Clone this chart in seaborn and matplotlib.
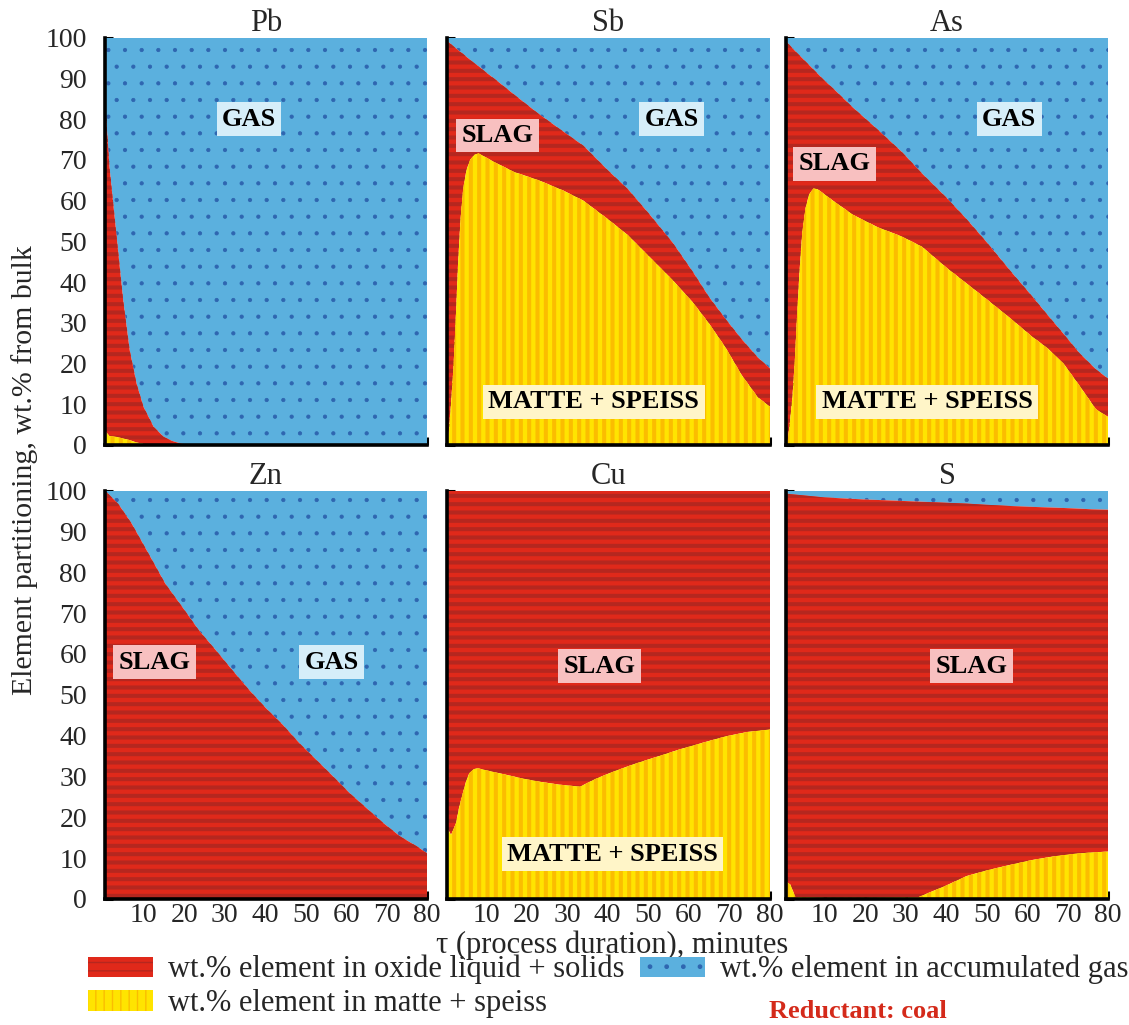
import matplotlib
matplotlib.use("Agg")
import matplotlib.pyplot as plt
import seaborn as sns
import numpy as np
from matplotlib.patches import Patch
from matplotlib.ticker import MultipleLocator, NullFormatter

# ---------------- data ----------------
elements = ["Pb", "Sb", "As", "Zn", "Cu", "S"]

# x = process duration (min); matte = wt.% in matte+speiss (bottom layer);
# condensed = matte + oxide (top of red layer); remainder up to 100 = gas
pb_x         = [0.4, 1.5, 3.2, 4.9, 6.5, 8.2, 9.9, 12.4, 14.9, 17, 19, 21, 30, 40, 50, 60, 70, 80]
pb_matte     = [3.5, 2.2, 2.0, 1.6, 1.2, 0.6, 0.3, 0.0, 0.0, 0, 0, 0, 0, 0, 0, 0, 0, 0]
pb_condensed = [84.5, 68.3, 51.9, 35.5, 23.3, 15.1, 9.4, 4.5, 2.0, 1.0, 0.4, 0, 0, 0, 0, 0, 0, 0]

sb_x         = [0.4, 0.8, 1.3, 2, 2.6, 3.1, 3.7, 4.4, 5.2, 6.1, 7.2, 8.2, 10, 12, 17, 23, 29, 34, 40, 45, 50, 56, 61, 65, 69, 73, 77, 80]
sb_matte     = [0, 3, 9, 19, 32, 44, 55, 63, 67.5, 70, 71.3, 71.6, 70.6, 69.5, 67, 65, 62.5, 60, 55.5, 51.5, 46.5, 40.5, 35, 29.8, 24, 17.2, 11.7, 9.4]
sb_condensed = [99.3, 98.9, 98.5, 97.9, 97.4, 97, 96.5, 96, 95.3, 94.6, 93.7, 93, 91.5, 90, 86, 81.3, 77, 73.5, 67.5, 62.8, 57, 49.7, 42.5, 36.3, 31, 26, 21.5, 18.8]

as_x         = [0.4, 0.8, 1.3, 2, 2.6, 3.1, 3.7, 4.4, 5.2, 6.1, 7.2, 8.2, 10, 12, 17, 23, 29, 34, 40, 45, 50, 56, 61, 65, 69, 73, 77, 80]
as_matte     = [0, 1, 5, 12, 21, 31, 42, 52, 58, 61.5, 63, 62.8, 61.5, 60, 56.5, 53.5, 51.2, 48.7, 43.6, 39.7, 35.8, 31, 26.8, 23.8, 20, 14.5, 8.8, 6.9]
as_condensed = [99.2, 98.7, 98.2, 97.4, 96.8, 96.3, 95.7, 95, 94.2, 93.3, 92.2, 91.2, 89.4, 87.6, 82.8, 77.5, 72, 66.7, 60.8, 55.5, 49.8, 42.6, 36.8, 32, 27.3, 22.5, 18.6, 16.3]

zn_x         = [0.4, 3.7, 7, 11.2, 15.3, 19.5, 23.6, 27.8, 31.9, 36.1, 40.2, 44.4, 48.5, 52.7, 56.8, 60.9, 65.1, 69.2, 73.4, 77.5, 80]
zn_matte     = [0] * 21
zn_condensed = [100, 96.7, 91.9, 84.5, 77.2, 71.5, 65.8, 60.9, 56, 51.1, 46.7, 42.6, 38.1, 34, 30, 25.9, 22.2, 18.6, 15.3, 12.9, 11.2]

cu_x         = [0.4, 1.4, 2.6, 3.4, 4.3, 5.1, 5.9, 7, 8, 11, 15, 19, 23.3, 28, 33.2, 37, 41.7, 47, 52.7, 58, 63.6, 69, 74.5, 80]
cu_matte     = [17.5, 15.7, 18.5, 22.5, 25.9, 28.8, 30.8, 31.8, 32, 31.3, 30.4, 29.5, 28.7, 28, 27.5, 29.4, 31.3, 33.2, 35, 36.7, 38.3, 39.8, 40.9, 41.5]
cu_condensed = [100] * 24

s_x          = [0.4, 1.5, 2.7, 10, 20, 33, 40, 45, 50, 56, 61, 67, 72, 76, 80]
s_matte      = [4.3, 3.5, 0.5, 0.3, 0.3, 0.4, 3.3, 5.6, 7, 8.4, 9.5, 10.5, 11.1, 11.4, 11.6]
s_condensed  = [99.3, 99.1, 99.0, 98.3, 97.8, 97.3, 97.0, 96.8, 96.5, 96.2, 96.0, 95.8, 95.6, 95.4, 95.3]

series = {
    "Pb": (pb_x, pb_matte, pb_condensed),
    "Sb": (sb_x, sb_matte, sb_condensed),
    "As": (as_x, as_matte, as_condensed),
    "Zn": (zn_x, zn_matte, zn_condensed),
    "Cu": (cu_x, cu_matte, cu_condensed),
    "S":  (s_x, s_matte, s_condensed),
}

# region labels: (text, x, y, kind)
region_labels = {
    "Pb": [("GAS", 36, 80, "gas")],
    "Sb": [("GAS", 55.7, 80, "gas"), ("SLAG", 12.8, 76, "slag"), ("MATTE + SPEISS", 36.6, 10.6, "matte")],
    "As": [("GAS", 55.6, 80, "gas"), ("SLAG", 12.4, 69, "slag"), ("MATTE + SPEISS", 35.3, 10.6, "matte")],
    "Zn": [("SLAG", 12.7, 58, "slag"), ("GAS", 56.4, 58, "gas")],
    "Cu": [("SLAG", 38, 57, "slag"), ("MATTE + SPEISS", 41.2, 11, "matte")],
    "S":  [("SLAG", 46.2, 57, "slag")],
}

legend_labels = ["wt.% element in oxide liquid + solids",
                 "wt.% element in matte + speiss",
                 "wt.% element in accumulated gas"]

# ---------------- style ----------------
sns.set_theme(style="ticks")
plt.rcParams["font.family"] = ["Liberation Serif", "DejaVu Serif"]

RED, RED_H = "#e0291a", "#b5271f"
YEL, YEL_H = "#ffe400", "#fbbd00"
BLU, BLU_H = "#5bb0de", "#2f66b0"
box_col = {"gas": "#d6eef9", "slag": "#f8c0c0", "matte": "#fff5c8"}

W, H = 1129, 1025
fig = plt.figure(figsize=(W / 100, H / 100), dpi=100)

col_left = [105, 447, 786]
col_w = [322, 323, 322]
row_top = [37.7, 490.5]
row_bot = [445, 899]

TICK_FS = 20
LAB_FS = 19


def hatched_fill(ax, x, y1, y2, fc, hc, hatch, hlw):
    with plt.rc_context({"hatch.linewidth": hlw}):
        coll = ax.fill_between(x, y1, y2, facecolor=fc, edgecolor=hc, hatch=hatch, linewidth=0)
    if hasattr(coll, "set_hatch_linewidth"):
        coll.set_hatch_linewidth(hlw)
    return coll


for i, el in enumerate(elements):
    r, c = divmod(i, 3)
    left = col_left[c] / W
    width = col_w[c] / W
    bottom = 1 - row_bot[r] / H
    height = (row_bot[r] - row_top[r]) / H
    ax = fig.add_axes([left, bottom, width, height])

    x, matte, condensed = series[el]
    x = np.asarray(x, float)
    matte = np.asarray(matte, float)
    condensed = np.asarray(condensed, float)
    top = np.full_like(x, 100.0)

    hatched_fill(ax, x, condensed, top, BLU, BLU_H, ".", 0.6)
    hatched_fill(ax, x, matte, condensed, RED, RED_H, "--", 2.9)
    hatched_fill(ax, x, 0, matte, YEL, YEL_H, "||", 2.9)

    ax.set_xlim(0.4, 80)
    ax.set_ylim(0, 100)
    ax.set_xticks(range(10, 81, 10))
    ax.yaxis.set_major_locator(MultipleLocator(10))
    ax.yaxis.set_minor_locator(MultipleLocator(5))
    ax.tick_params(axis="both", which="both", direction="in", length=6, width=2.2,
                   color="black", labelsize=TICK_FS)
    ax.tick_params(axis="y", pad=13)
    ax.tick_params(axis="x", pad=3)
    if c != 0:
        ax.yaxis.set_major_formatter(NullFormatter())
    if r == 0:
        ax.xaxis.set_major_formatter(NullFormatter())

    for s in ("top", "right"):
        ax.spines[s].set_visible(False)
    for s in ("left", "bottom"):
        ax.spines[s].set_linewidth(2.6)
        ax.spines[s].set_color("black")
        ax.spines[s].set_zorder(5)

    ax.set_title(el, fontsize=22, pad=3)

    for txt, tx, ty, kind in region_labels[el]:
        ax.text(tx, ty, txt, ha="center", va="center", fontsize=LAB_FS, fontweight="bold",
                color="black", zorder=6,
                bbox=dict(boxstyle="square,pad=0.2", facecolor=box_col[kind], edgecolor="none"))

fig.text(25 / W, 1 - 470 / H, "Element partitioning, wt.% from bulk", rotation=90,
         ha="center", va="center", fontsize=21.5)
fig.text(612 / W, 1 - 945 / H, "τ (process duration), minutes", ha="center", va="center", fontsize=22)

with plt.rc_context({"hatch.linewidth": 2.9}):
    h_red = Patch(facecolor=RED, edgecolor=RED_H, hatch="--", linewidth=0)
    h_yel = Patch(facecolor=YEL, edgecolor=YEL_H, hatch="||", linewidth=0)
with plt.rc_context({"hatch.linewidth": 0.6}):
    h_blu = Patch(facecolor=BLU, edgecolor=BLU_H, hatch=".", linewidth=0)

fig.legend(handles=[h_red, h_yel, h_blu], labels=legend_labels, ncol=2,
           loc="upper left", bbox_to_anchor=(88 / W, 1 - 955 / H), frameon=False,
           fontsize=22, handlelength=2.12, handleheight=0.65, handletextpad=0.5,
           columnspacing=0.5, labelspacing=0.15, borderpad=0, borderaxespad=0)

fig.text(858 / W, 1 - 1011 / H, "Reductant: coal", ha="center", va="center",
         fontsize=19, fontweight="bold", color="#d42a1a")

fig.savefig("out.png", dpi=100)
